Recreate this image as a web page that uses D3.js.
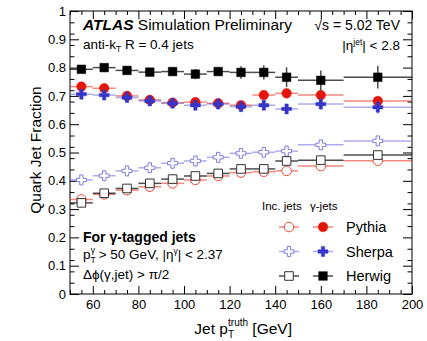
<!DOCTYPE html>
<html>
<head>
<meta charset="utf-8">
<script src="https://cdn.jsdelivr.net/npm/d3@7"></script>
<style>
  body { margin: 0; background: #fff; }
  svg { display: block; font-family: "Liberation Sans", Arial, Helvetica, sans-serif; }
</style>
</head>
<body>
<svg id="chart" width="427" height="341"></svg>
<script>
// bin edges in jet pT (GeV)
const binEdges = [50, 60, 70, 80, 90, 100, 110, 120, 130, 140, 150, 170, 200];

// inclusive jets (open markers)
const pythiaInc = [0.334, 0.352, 0.367, 0.379, 0.391, 0.403, 0.417, 0.429, 0.432, 0.435, 0.452, 0.471];
const sherpaInc = [0.403, 0.418, 0.435, 0.446, 0.462, 0.470, 0.483, 0.497, 0.501, 0.505, 0.527, 0.541];
const herwigInc = [0.322, 0.356, 0.373, 0.391, 0.406, 0.417, 0.426, 0.442, 0.442, 0.470, 0.473, 0.491];
const incErr = [0.003, 0.003, 0.003, 0.003, 0.003, 0.003, 0.003, 0.003, 0.003, 0.004, 0.004, 0.004];

// gamma-tagged jets (filled markers)
const pythiaGam = [0.733, 0.727, 0.700, 0.686, 0.676, 0.678, 0.674, 0.667, 0.703, 0.709, 0.703, 0.682];
const sherpaGam = [0.706, 0.703, 0.694, 0.682, 0.674, 0.667, 0.671, 0.662, 0.667, 0.654, 0.671, 0.660];
const herwigGam = [0.794, 0.800, 0.790, 0.784, 0.786, 0.777, 0.786, 0.783, 0.783, 0.766, 0.755, 0.766];
const pythiaGamErr = [0.006, 0.006, 0.006, 0.008, 0.008, 0.010, 0.010, 0.012, 0.012, 0.016, 0.016, 0.016];
const sherpaGamErr = [0.006, 0.006, 0.006, 0.008, 0.008, 0.010, 0.010, 0.012, 0.012, 0.018, 0.020, 0.024];
const herwigGamErr = [0.008, 0.008, 0.008, 0.010, 0.012, 0.018, 0.015, 0.022, 0.025, 0.035, 0.035, 0.040];

const xMajor = [60, 80, 100, 120, 140, 160, 180, 200];
const yMajor = [0, 0.1, 0.2, 0.3, 0.4, 0.5, 0.6, 0.7, 0.8, 0.9, 1];
const generators = ['Pythia', 'Sherpa', 'Herwig'];

const svg = d3.select('#chart');
const frame = { left: 70, right: 412, top: 11, bottom: 294 };
const x = d3.scaleLinear().domain([50, 200]).range([frame.left, frame.right]);
const y = d3.scaleLinear().domain([0, 1]).range([frame.bottom, frame.top]);

const style = {
  Pythia: { color: '#e3160b', line: 'rgba(228,40,20,0.55)', open: '#ea4a35', shape: d3.symbolCircle, size: 72 },
  Sherpa: { color: '#3535c8', line: 'rgba(70,70,215,0.45)', open: '#7d7de0', shape: d3.symbolCross, size: 55 },
  Herwig: { color: '#000', line: 'rgba(0,0,0,0.7)', open: '#333', shape: d3.symbolSquare, size: 74 }
};

// axes: ticks pointing inward on all four sides
const xMinor = d3.range(50, 201, 5).filter((v) => !xMajor.includes(v));
const yMinor = d3.range(0, 51, 2).map((v) => v / 50).filter((v) => !yMajor.some((m) => Math.abs(m - v) < 1e-9));

function addAxis(gen, transform) {
  const g = svg.append('g').attr('transform', transform).call(gen);
  g.select('.domain').remove();
  g.selectAll('line').attr('stroke', '#000');
  return g;
}
const fmtY = (v) => (v === 0 ? '0' : v === 1 ? '1' : v.toFixed(1));

addAxis(d3.axisBottom(x).tickValues(xMajor).tickSize(-8).tickPadding(6), `translate(0,${frame.bottom})`)
  .selectAll('text').attr('font-size', 13).attr('fill', '#000').attr('font-family', null);
addAxis(d3.axisBottom(x).tickValues(xMinor).tickSize(-4).tickFormat(''), `translate(0,${frame.bottom})`);
addAxis(d3.axisTop(x).tickValues(xMajor).tickSize(-8).tickFormat(''), `translate(0,${frame.top})`);
addAxis(d3.axisTop(x).tickValues(xMinor).tickSize(-4).tickFormat(''), `translate(0,${frame.top})`);
addAxis(d3.axisLeft(y).tickValues(yMajor).tickSize(-9).tickPadding(4).tickFormat(fmtY), `translate(${frame.left},0)`)
  .selectAll('text').attr('font-size', 13).attr('fill', '#000').attr('font-family', null);
addAxis(d3.axisLeft(y).tickValues(yMinor).tickSize(-4.5).tickFormat(''), `translate(${frame.left},0)`);
addAxis(d3.axisRight(y).tickValues(yMajor).tickSize(-9).tickFormat(''), `translate(${frame.right},0)`);
addAxis(d3.axisRight(y).tickValues(yMinor).tickSize(-4.5).tickFormat(''), `translate(${frame.right},0)`);

svg.append('rect')
  .attr('x', frame.left).attr('y', frame.top)
  .attr('width', frame.right - frame.left).attr('height', frame.bottom - frame.top)
  .attr('fill', 'none').attr('stroke', '#000').attr('stroke-width', 1);

// data series
const bins = binEdges.slice(0, -1).map((lo, i) => ({ lo, hi: binEdges[i + 1], mid: (lo + binEdges[i + 1]) / 2 }));

function drawSeries(name, values, errors, filled) {
  const s = style[name];
  const pts = bins.map((b, i) => ({ ...b, v: values[i], e: errors[i] }));
  const g = svg.append('g');
  g.append('g').selectAll('line').data(pts).join('line')
    .attr('x1', (d) => x(d.lo)).attr('x2', (d) => x(d.hi))
    .attr('y1', (d) => y(d.v)).attr('y2', (d) => y(d.v))
    .attr('stroke', s.line).attr('stroke-width', 1.5);
  g.append('g').selectAll('line').data(pts).join('line')
    .attr('x1', (d) => x(d.mid)).attr('x2', (d) => x(d.mid))
    .attr('y1', (d) => y(d.v - d.e)).attr('y2', (d) => y(d.v + d.e))
    .attr('stroke', s.line).attr('stroke-width', 1.5);
  g.append('g').selectAll('path').data(pts).join('path')
    .attr('transform', (d) => `translate(${x(d.mid)},${y(d.v)})`)
    .attr('d', d3.symbol(s.shape, s.size))
    .attr('fill', filled ? s.color : '#fff')
    .attr('stroke', filled ? s.color : s.open)
    .attr('stroke-width', filled ? 0.5 : 1);
}

drawSeries('Pythia', pythiaInc, incErr, false);
drawSeries('Sherpa', sherpaInc, incErr, false);
drawSeries('Herwig', herwigInc, incErr, false);
drawSeries('Pythia', pythiaGam, pythiaGamErr, true);
drawSeries('Sherpa', sherpaGam, sherpaGamErr, true);
drawSeries('Herwig', herwigGam, herwigGamErr, true);

// titles
svg.append('text')
  .attr('transform', 'translate(41,150) rotate(-90)')
  .attr('text-anchor', 'middle').attr('font-size', 15.5).text('Quark Jet Fraction');

const xt = svg.append('text').attr('x', 292).attr('y', 334).attr('text-anchor', 'end').attr('font-size', 15.5);
xt.append('tspan').text('Jet p');
xt.append('tspan').attr('font-size', 10).attr('dy', 4).text('T');
xt.append('tspan').attr('font-size', 10).attr('dx', -6).attr('dy', -12).text('truth');
xt.append('tspan').attr('dy', 8).text(' [GeV]');

// labels
const atlas = svg.append('text').attr('x', 83).attr('y', 30).attr('font-size', 15.5);
atlas.append('tspan').attr('font-weight', 'bold').attr('font-style', 'italic').text('ATLAS');
atlas.append('tspan').text(' Simulation Preliminary');

svg.append('text').attr('x', 400).attr('y', 30).attr('text-anchor', 'end').attr('font-size', 14)
  .text('√s = 5.02 TeV');

const anti = svg.append('text').attr('x', 83).attr('y', 49).attr('font-size', 13.5);
anti.append('tspan').text('anti-k');
anti.append('tspan').attr('font-size', 8.5).attr('dy', 3).text('T');
anti.append('tspan').attr('dy', -3).text(' R = 0.4 jets');

const eta = svg.append('text').attr('x', 400).attr('y', 50).attr('text-anchor', 'end').attr('font-size', 13.5);
eta.append('tspan').text('|η');
eta.append('tspan').attr('font-size', 8.5).attr('dy', -5).text('jet');
eta.append('tspan').attr('dy', 5).text('| < 2.8');

svg.append('text').attr('x', 83).attr('y', 242).attr('font-size', 14).attr('font-weight', 'bold')
  .text('For γ-tagged jets');

const pt = svg.append('text').attr('x', 83).attr('y', 259).attr('font-size', 13.5);
pt.append('tspan').text('p');
pt.append('tspan').attr('font-size', 8.5).attr('dy', 4).text('T');
pt.append('tspan').attr('font-size', 8.5).attr('dx', -5).attr('dy', -10).text('γ');
pt.append('tspan').attr('dy', 6).text(' > 50 GeV, |η');
pt.append('tspan').attr('font-size', 8.5).attr('dy', -5).text('γ');
pt.append('tspan').attr('dy', 5).text('| < 2.37');

svg.append('text').attr('x', 83).attr('y', 279).attr('font-size', 13.5).text('Δϕ(γ,jet) > π/2');

// legend
svg.append('text').attr('x', 262).attr('y', 210).attr('font-size', 11.5).text('Inc. jets');
svg.append('text').attr('x', 310).attr('y', 210).attr('font-size', 11.5).text('γ-jets');

const legendY = d3.scalePoint().domain(generators).range([227, 276]);
const legendCols = [{ cx: 289, filled: false }, { cx: 323, filled: true }];
generators.forEach((name) => {
  const s = style[name];
  const cy = legendY(name);
  legendCols.forEach((c) => {
    svg.append('line').attr('x1', c.cx - 10).attr('x2', c.cx + 10).attr('y1', cy).attr('y2', cy)
      .attr('stroke', s.line).attr('stroke-width', 1.5);
    svg.append('path').attr('transform', `translate(${c.cx},${cy})`)
      .attr('d', d3.symbol(s.shape, s.size))
      .attr('fill', c.filled ? s.color : '#fff')
      .attr('stroke', c.filled ? s.color : s.open)
      .attr('stroke-width', c.filled ? 0.5 : 1);
  });
  svg.append('text').attr('x', 346).attr('y', cy + 5).attr('font-size', 14.5).text(name);
});
</script>
</body>
</html>
